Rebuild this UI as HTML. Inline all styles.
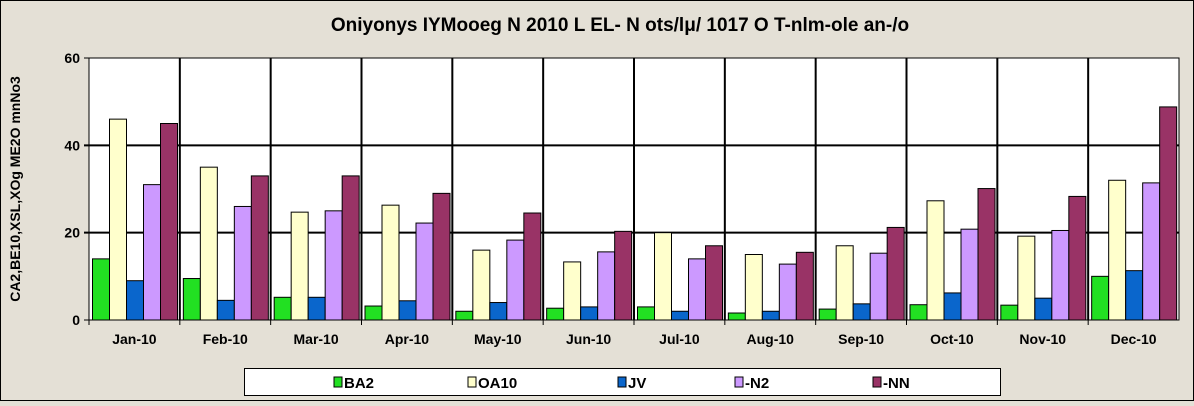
<!DOCTYPE html>
<html><head><meta charset="utf-8"><style>
body{margin:0;width:1194px;height:401px;overflow:hidden;background:#e4e0d6;font-family:"Liberation Sans",sans-serif}
</style></head><body>
<svg width="1194" height="401" xmlns="http://www.w3.org/2000/svg">
<rect x="0.5" y="0.5" width="1193" height="400" fill="#e4e0d6" stroke="#000"/>
<text x="620" y="31" text-anchor="middle" font-size="19" font-weight="bold">Oniyonys IYMooeg N 2010 L EL- N ots/lμ/ 1017 O T-nlm-ole an-/o</text>
<text transform="translate(20,189) rotate(-90)" text-anchor="middle" font-size="14" font-weight="bold">CA2,BE10,XSL,XOg ME2O mnNo3</text>
<g id="plot"></g>
<g id="legend"></g>
</svg>
<script>
const categories=["Jan-10","Feb-10","Mar-10","Apr-10","May-10","Jun-10","Jul-10","Aug-10","Sep-10","Oct-10","Nov-10","Dec-10"];
const seriesNames=["BA2","OA10","JV","-N2","-NN"];
const ba2=[14,9.5,5.2,3.2,2,2.7,3,1.6,2.5,3.5,3.4,10];
const oa10=[46,35,24.7,26.3,16,13.3,20,15,17,27.3,19.2,32];
const jv=[9,4.5,5.2,4.4,4,3,2,2,3.7,6.2,5,11.3];
const n2=[31,26,25,22.2,18.3,15.6,14,12.8,15.3,20.8,20.5,31.4];
const nn=[45,33,33,29,24.5,20.3,17,15.5,21.2,30.1,28.3,48.8];
const yTicks=[0,20,40,60];
const colors=["#22e022","#ffffcc","#0a66cc","#cc99ff","#993366"];
const series=[ba2,oa10,jv,n2,nn];
const NS="http://www.w3.org/2000/svg";
const L=89,R=1179,T=58,B=320,yMax=60;
const bw=(R-L)/categories.length;
const y=v=>B-(v/yMax)*(B-T);
const xg=i=>L+i*bw;
const plot=document.getElementById('plot');
function mk(tag,attrs,parent){const e=document.createElementNS(NS,tag);for(const k in attrs)e.setAttribute(k,attrs[k]);parent.appendChild(e);return e;}
const bg=mk('rect',{x:L,y:T,width:R-L,height:B-T,fill:"#fff"},plot);


yTicks.forEach(t=>{
 const ln=mk('line',{x1:L-5,x2:R,y1:y(t),y2:y(t),stroke:"#000","stroke-width":(t===0||t===yMax)?1:2},plot);
 
 
 const tx=mk('text',{x:L-9,y:y(t)+5,"text-anchor":"end","font-size":14,"font-weight":"bold"},plot);
 tx.textContent=t;
 
 
});
categories.forEach((c,i)=>{
 if(i>0){const g=mk('line',{x1:xg(i),x2:xg(i),y1:T,y2:B,stroke:"#000","stroke-width":2},plot);
 
 }
 const tk=mk('line',{x1:xg(i),x2:xg(i),y1:B,y2:B+5,stroke:"#000"},plot);
 
 
 const w=17,start=xg(i)+3.5;
 series.forEach((s,j)=>{
  const r=mk('rect',{x:start+j*w,y:y(s[i]),width:w,height:B-y(s[i]),fill:colors[j],stroke:"#000","stroke-width":1},plot);
  
  
 });
 const t=mk('text',{x:xg(i)+bw/2,y:B+24,"text-anchor":"middle","font-size":14,"font-weight":"bold"},plot);
 t.textContent=c;
 
 
});
const ax=mk('rect',{x:L,y:T,width:R-L,height:B-T,fill:"none",stroke:"#000","stroke-width":1},plot);


const lg=document.getElementById('legend');
const lb=mk('rect',{x:244.5,y:368.5,width:756,height:27,fill:"#fff",stroke:"#000"},lg);


const lx=[334,468,618,735,873];
seriesNames.forEach((n,j)=>{
 const sw=mk('rect',{x:lx[j],y:377,width:8,height:10,fill:colors[j],stroke:"#000"},lg);
 
 
 const t=mk('text',{x:lx[j]+10,y:388,"font-size":15,"font-weight":"bold"},lg);
 t.textContent=n;
 
 
});
</script>
</body></html>
